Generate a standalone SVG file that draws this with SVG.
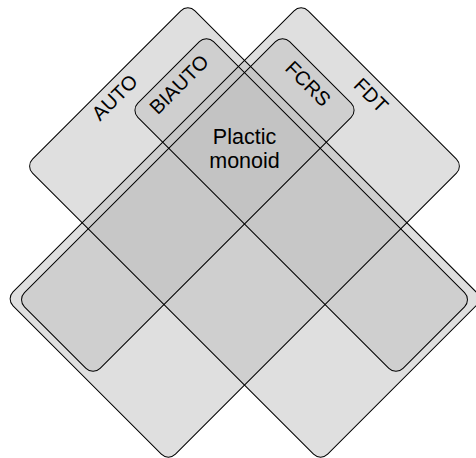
<svg xmlns="http://www.w3.org/2000/svg" xmlns:xlink="http://www.w3.org/1999/xlink" width="476" height="458" viewBox="0 0 476 458">
<style>
.fillset{fill:#bfbfbf;fill-opacity:0.5;stroke:none}
.edge{fill:none;stroke:#000;stroke-width:1}
text{font-family:"Liberation Sans",Arial,Helvetica,sans-serif;fill:#000}
.lbl{font-size:20px;text-anchor:middle}
.main{font-size:21.5px;text-anchor:middle}
</style>
<defs>
<rect id="s-auto" x="-208.7" y="-114.85" width="417.4" height="229.7" rx="10" transform="translate(254.25,232.5) rotate(45)"/>
<rect id="s-fdt" x="-208.7" y="-114.85" width="417.4" height="229.7" rx="10" transform="translate(234.75,232.5) rotate(-45)"/>
<rect id="s-biauto" x="-187.5" y="-53.5" width="375" height="107" rx="10" transform="translate(301.2,205) rotate(45)"/>
<rect id="s-fcrs" x="-187.5" y="-53.5" width="375" height="107" rx="10" transform="translate(187.8,205) rotate(-45)"/>
</defs>
<rect width="476" height="458" fill="#fff"/>
<g id="AUTO">
<use xlink:href="#s-auto" href="#s-auto" class="fillset"/>
<text class="lbl" transform="translate(114.5,97.2) rotate(-45)" y="7.2">AUTO</text>
</g>
<g id="FDT">
<use xlink:href="#s-fdt" href="#s-fdt" class="fillset"/>
<text class="lbl" transform="translate(371.3,95) rotate(45)" y="7.2">FDT</text>
</g>
<g id="BIAUTO">
<use xlink:href="#s-biauto" href="#s-biauto" class="fillset"/>
<text class="lbl" transform="translate(178.8,84.2) rotate(-45)" y="7.2">BIAUTO</text>
</g>
<g id="FCRS">
<use xlink:href="#s-fcrs" href="#s-fcrs" class="fillset"/>
<text class="lbl" transform="translate(308.3,83.3) rotate(45)" y="7.2">FCRS</text>
</g>
<g id="outlines">
<use xlink:href="#s-auto" href="#s-auto" class="edge"/>
<use xlink:href="#s-fdt" href="#s-fdt" class="edge"/>
<use xlink:href="#s-biauto" href="#s-biauto" class="edge"/>
<use xlink:href="#s-fcrs" href="#s-fcrs" class="edge"/>
</g>
<g id="plactic">
<text class="main" x="244.5" y="144">Plactic</text>
<text class="main" x="244.5" y="168">monoid</text>
</g>
<g id="connectors"/>
</svg>
